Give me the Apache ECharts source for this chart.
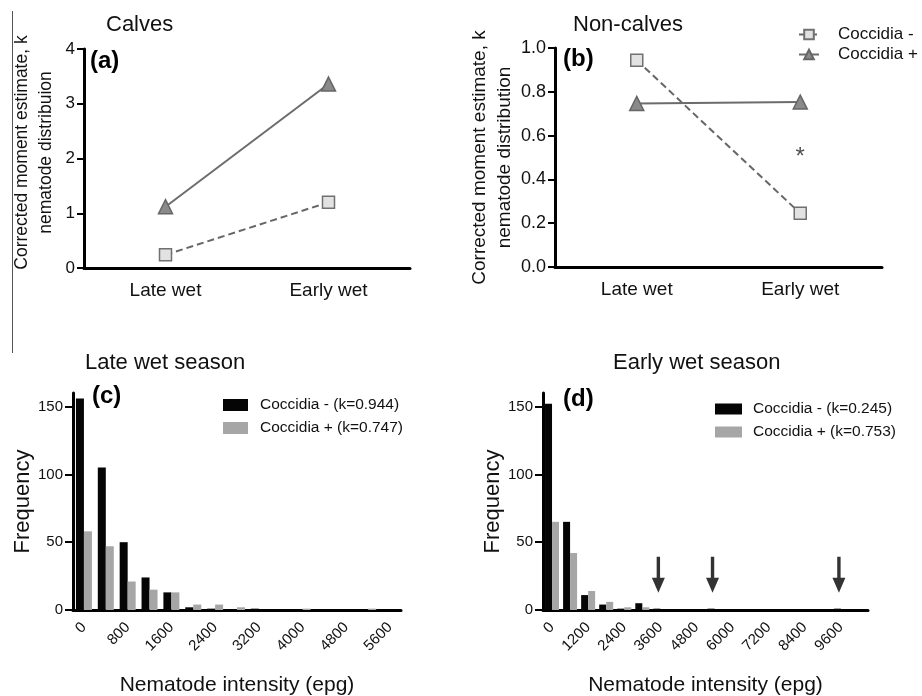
<!DOCTYPE html>
<html>
<head>
<meta charset="utf-8">
<script src="https://cdn.jsdelivr.net/npm/echarts@6/dist/echarts.min.js"></script>
<style>
  html, body { margin: 0; padding: 0; background: #fff; }
  #chart { width: 922px; height: 696px; }
</style>
</head>
<body>
<div id="chart"></div>
<script>
// top panels: k estimates
var seasons = ['Late wet', 'Early wet'];
var calvesMinus = [0.24, 1.2];
var calvesPlus = [1.12, 3.36];
var nonCalvesMinus = [0.944, 0.245];
var nonCalvesPlus = [0.747, 0.753];
var starPoint = ['Early wet', 0.5];

// bottom panels: frequency histograms (bins of 400 / 600 epg)
var binsLate = ['0', '400', '800', '1200', '1600', '2000', '2400', '2800', '3200', '3600', '4000', '4400', '4800', '5200', '5600'];
var lateMinus = [156, 105, 50, 24, 13, 2, 1, 0, 1, 0, 0, 0, 0, 0, 0];
var latePlus = [58, 47, 21, 15, 13, 4, 4, 2, 0, 0, 1, 0, 0, 1, 0];

var binsEarly = ['0', '600', '1200', '1800', '2400', '3000', '3600', '4200', '4800', '5400', '6000', '6600', '7200', '7800', '8400', '9000', '9600', '10200'];
var earlyMinus = [152, 65, 11, 4, 1, 5, 1, 0, 0, 1, 0, 0, 0, 0, 0, 0, 1, 0];
var earlyPlus = [65, 42, 14, 6, 2, 2, 0, 0, 0, 0, 0, 0, 0, 0, 0, 0, 0, 0];
var arrowBins = ['3600', '5400', '9600'];
var arrowLevel = 26;

var freqTicks = [0, 50, 100, 150];

var FONT = 'Liberation Sans, Arial, sans-serif';
var chart = echarts.init(document.getElementById('chart'), null, { renderer: 'canvas' });

function lineXAxis(idx) {
    return {
        gridIndex: idx,
        type: 'category',
        data: seasons,
        axisLine: { lineStyle: { color: '#000', width: 3 } },
        axisTick: { alignWithLabel: true, length: 8, lineStyle: { color: '#000', width: 2 } },
        axisLabel: { color: '#111', fontSize: 19, fontFamily: FONT, margin: 13 },
        splitLine: { show: false }
    };
}

function histXAxis(idx, bins) {
    return {
        gridIndex: idx,
        type: 'category',
        data: bins,
        name: 'Nematode intensity (epg)',
        nameLocation: 'middle',
        nameGap: 65,
        nameTextStyle: { color: '#111', fontSize: 21, fontFamily: FONT },
        axisLine: { lineStyle: { color: '#000', width: 3 } },
        axisTick: { alignWithLabel: true, interval: 1, length: 7, lineStyle: { color: '#000', width: 2 } },
        axisLabel: { interval: 1, rotate: 45, color: '#111', fontSize: 15, fontFamily: FONT, margin: 15 },
        splitLine: { show: false }
    };
}

function histYAxis(idx) {
    return {
        gridIndex: idx,
        type: 'value',
        min: 0,
        max: 160,
        name: 'Frequency',
        nameLocation: 'middle',
        nameGap: 37,
        nameTextStyle: { color: '#111', fontSize: 22, fontFamily: FONT },
        axisLine: { show: true, lineStyle: { color: '#000', width: 3 } },
        axisTick: { show: true, customValues: freqTicks, length: 8, lineStyle: { color: '#000', width: 2 } },
        axisLabel: { customValues: freqTicks, color: '#111', fontSize: 15, fontFamily: FONT, margin: 10 },
        splitLine: { show: false }
    };
}

var minusLine = {
    type: 'line',
    name: 'Coccidia -',
    symbol: 'rect',
    symbolSize: 12,
    lineStyle: { color: '#666', width: 2, type: [7, 4] },
    itemStyle: { color: '#e2e2e2', borderColor: '#707070', borderWidth: 1.5 }
};
var plusLine = {
    type: 'line',
    name: 'Coccidia +',
    symbol: 'triangle',
    symbolSize: 14,
    lineStyle: { color: '#6c6c6c', width: 2 },
    itemStyle: { color: '#8a8a8a', borderColor: '#666', borderWidth: 1.5 }
};

var titleStyle = { fontSize: 22, fontWeight: 'normal', color: '#111', fontFamily: FONT };
var tagStyle = { fontSize: 24, fontWeight: 'bold', color: '#000', fontFamily: FONT };

var option = {
    animation: false,
    backgroundColor: '#fff',
    textStyle: { fontFamily: FONT },
    title: [
        { text: 'Calves', left: 101, top: 9, textStyle: titleStyle },
        { text: 'Non-calves', left: 568, top: 9, textStyle: titleStyle },
        { text: 'Late wet season', left: 80, top: 347, textStyle: titleStyle },
        { text: 'Early wet season', left: 608, top: 347, textStyle: titleStyle },
        { text: '(a)', left: 85, top: 44, textStyle: tagStyle },
        { text: '(b)', left: 558, top: 42, textStyle: tagStyle },
        { text: '(c)', left: 87, top: 379, textStyle: tagStyle },
        { text: '(d)', left: 558, top: 382, textStyle: tagStyle }
    ],
    legend: [
        {
            data: ['Coccidia -', 'Coccidia +'],
            orient: 'vertical',
            left: 793, top: 21,
            itemWidth: 20, itemHeight: 12, itemGap: 3,
            textStyle: { fontSize: 17, color: '#111', fontFamily: FONT, padding: [0, 0, 0, 14] }
        },
        {
            data: ['Coccidia - (k=0.944)', 'Coccidia + (k=0.747)'],
            orient: 'vertical',
            left: 218, top: 392,
            icon: 'rect', itemWidth: 25, itemHeight: 12, itemGap: 7,
            textStyle: { fontSize: 15.5, color: '#111', fontFamily: FONT, padding: [0, 0, 0, 7] }
        },
        {
            data: ['Coccidia - (k=0.245)', 'Coccidia + (k=0.753)'],
            orient: 'vertical',
            left: 710, top: 396,
            icon: 'rect', itemWidth: 27, itemHeight: 11, itemGap: 7,
            textStyle: { fontSize: 15.5, color: '#111', fontFamily: FONT, padding: [0, 0, 0, 6] }
        }
    ],
    graphic: [
        { type: 'line', shape: { x1: 12.5, y1: 11, x2: 12.5, y2: 353 }, style: { stroke: '#555', lineWidth: 1 } }
    ],
    grid: [
        { left: 84, top: 49, width: 326, height: 219, outerBoundsMode: 'none' },
        { left: 555, top: 48, width: 327, height: 219, outerBoundsMode: 'none' },
        { left: 73, top: 393, width: 328, height: 217, outerBoundsMode: 'none' },
        { left: 543, top: 393, width: 325, height: 217, outerBoundsMode: 'none' }
    ],
    xAxis: [
        lineXAxis(0),
        lineXAxis(1),
        histXAxis(2, binsLate),
        histXAxis(3, binsEarly)
    ],
    yAxis: [
        {
            gridIndex: 0, type: 'value', min: 0, max: 4, interval: 1,
            name: 'Corrected moment estimate, k\nnematode distribuion',
            nameLocation: 'middle', nameGap: 26,
            nameTextStyle: { color: '#111', fontSize: 17.5, fontFamily: FONT, lineHeight: 24, padding: [0, 0, 0, 12] },
            axisLine: { show: true, lineStyle: { color: '#000', width: 3 } },
            axisTick: { show: true, length: 7, lineStyle: { color: '#000', width: 2 } },
            axisLabel: { color: '#111', fontSize: 17, fontFamily: FONT, margin: 9 },
            splitLine: { show: false }
        },
        {
            gridIndex: 1, type: 'value', min: 0, max: 1, interval: 0.2,
            name: 'Corrected moment estimate, k\nnematode distribution',
            nameLocation: 'middle', nameGap: 37,
            nameTextStyle: { color: '#111', fontSize: 19, fontFamily: FONT, lineHeight: 25 },
            axisLine: { show: true, lineStyle: { color: '#000', width: 3 } },
            axisTick: { show: true, length: 7, lineStyle: { color: '#000', width: 2 } },
            axisLabel: { color: '#111', fontSize: 18, fontFamily: FONT, margin: 9, formatter: function (v) { return v.toFixed(1); } },
            splitLine: { show: false }
        },
        histYAxis(2),
        histYAxis(3)
    ],
    series: [
        Object.assign({}, minusLine, { xAxisIndex: 0, yAxisIndex: 0, data: calvesMinus }),
        Object.assign({}, plusLine, { xAxisIndex: 0, yAxisIndex: 0, data: calvesPlus }),
        Object.assign({}, minusLine, { xAxisIndex: 1, yAxisIndex: 1, data: nonCalvesMinus }),
        Object.assign({}, plusLine, { xAxisIndex: 1, yAxisIndex: 1, data: nonCalvesPlus }),
        {
            type: 'scatter', name: 'sig', xAxisIndex: 1, yAxisIndex: 1,
            data: [starPoint], symbolSize: 1,
            itemStyle: { color: 'rgba(0,0,0,0)' },
            label: { show: true, position: 'inside', formatter: '*', fontSize: 24, color: '#222', fontFamily: FONT }
        },
        {
            type: 'bar', name: 'Coccidia - (k=0.944)', xAxisIndex: 2, yAxisIndex: 2,
            data: lateMinus, barWidth: 8, barGap: '0%', itemStyle: { color: '#050505' }
        },
        {
            type: 'bar', name: 'Coccidia + (k=0.747)', xAxisIndex: 2, yAxisIndex: 2,
            data: latePlus, barWidth: 8, barGap: '0%', itemStyle: { color: '#a6a6a6' }
        },
        {
            type: 'bar', name: 'Coccidia - (k=0.245)', xAxisIndex: 3, yAxisIndex: 3,
            data: earlyMinus, barWidth: 7, barGap: '0%', itemStyle: { color: '#050505' }
        },
        {
            type: 'bar', name: 'Coccidia + (k=0.753)', xAxisIndex: 3, yAxisIndex: 3,
            data: earlyPlus, barWidth: 7, barGap: '0%', itemStyle: { color: '#a6a6a6' }
        },
        {
            type: 'scatter', name: 'arrows', xAxisIndex: 3, yAxisIndex: 3,
            data: arrowBins.map(function (b) { return [b, arrowLevel]; }),
            symbol: 'path://M4.8,0 L8.2,0 L8.2,21 L13,21 L6.5,36 L0,21 L4.8,21 Z',
            symbolSize: [13, 36], symbolOffset: [-2, 0],
            itemStyle: { color: '#000' }
        }
    ]
};

chart.setOption(option);
</script>
</body>
</html>
